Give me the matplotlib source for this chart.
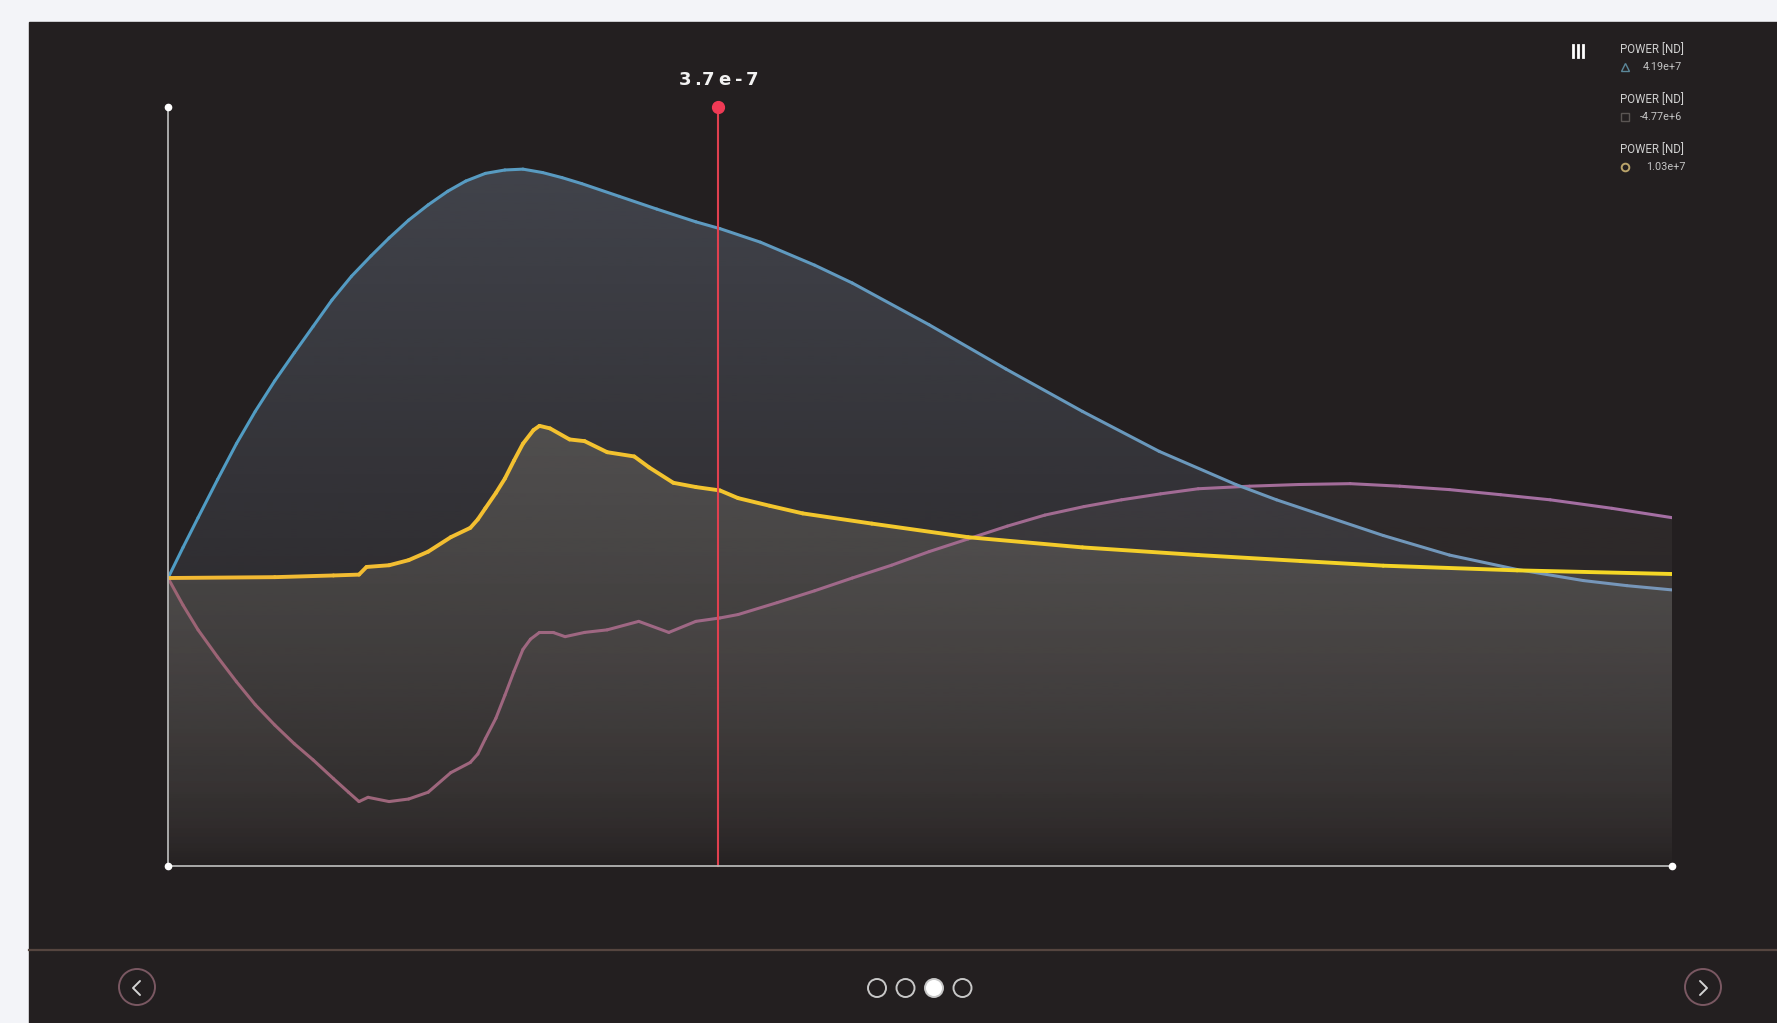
import numpy as np
import matplotlib
matplotlib.use("Agg")
import matplotlib.pyplot as plt
from matplotlib.collections import LineCollection
from matplotlib.patches import Polygon, Circle, Rectangle
from matplotlib.colors import to_rgb

# time in microseconds, power in units of 1e7
blue_t = [0, 0.010, 0.020, 0.033, 0.0455, 0.058, 0.071, 0.084, 0.0965, 0.109,
          0.122, 0.135, 0.147, 0.160, 0.173, 0.186, 0.198, 0.211, 0.224, 0.236,
          0.249, 0.262, 0.275, 0.300, 0.325, 0.351, 0.367, 0.394, 0.430, 0.455,
          0.506, 0.557, 0.608, 0.659, 0.710, 0.737, 0.764, 0.808, 0.852, 0.897,
          0.941, 0.970, 1.0]
blue_p = [0, 0.36, 0.71, 1.16, 1.58, 1.96, 2.32, 2.65, 2.96, 3.27,
          3.55, 3.79, 4.00, 4.21, 4.39, 4.55, 4.67, 4.76, 4.80, 4.81,
          4.77, 4.71, 4.64, 4.49, 4.34, 4.19, 4.11, 3.95, 3.68, 3.47,
          2.98, 2.46, 1.96, 1.49, 1.10, 0.92, 0.76, 0.50, 0.27, 0.10,
          -0.03, -0.09, -0.14]

yellow_t = [0, 0.071, 0.110, 0.127, 0.132, 0.147, 0.160, 0.173, 0.188, 0.201,
            0.206, 0.211, 0.218, 0.224, 0.230, 0.236, 0.243, 0.247, 0.254, 0.267,
            0.277, 0.292, 0.310, 0.320, 0.336, 0.351, 0.367, 0.379, 0.400, 0.422,
            0.468, 0.532, 0.608, 0.685, 0.753, 0.808, 0.897, 1.0]
yellow_p = [0, 0.01, 0.03, 0.04, 0.13, 0.15, 0.21, 0.31, 0.48, 0.59,
            0.69, 0.82, 1.00, 1.17, 1.38, 1.58, 1.74, 1.79, 1.76, 1.63,
            1.61, 1.48, 1.43, 1.30, 1.12, 1.07, 1.03, 0.94, 0.85, 0.76,
            0.64, 0.48, 0.36, 0.27, 0.20, 0.145, 0.09, 0.047]

pink_t = [0, 0.010, 0.020, 0.033, 0.0455, 0.058, 0.071, 0.084, 0.0965, 0.110,
          0.120, 0.127, 0.133, 0.147, 0.160, 0.173, 0.188, 0.201, 0.206, 0.211,
          0.218, 0.224, 0.230, 0.236, 0.241, 0.247, 0.256, 0.264, 0.277, 0.292,
          0.313, 0.333, 0.351, 0.367, 0.379, 0.405, 0.430, 0.455, 0.481, 0.506,
          0.532, 0.558, 0.583, 0.609, 0.634, 0.660, 0.685, 0.719, 0.752, 0.786,
          0.819, 0.852, 0.886, 0.919, 0.960, 1.0]
pink_p = [0, -0.32, -0.61, -0.93, -1.22, -1.49, -1.73, -1.95, -2.14, -2.36,
          -2.52, -2.63, -2.58, -2.63, -2.60, -2.52, -2.29, -2.17, -2.07, -1.89,
          -1.65, -1.38, -1.10, -0.84, -0.72, -0.64, -0.64, -0.69, -0.64, -0.61,
          -0.51, -0.64, -0.51, -0.47, -0.43, -0.29, -0.15, 0.00, 0.15, 0.31,
          0.46, 0.61, 0.74, 0.84, 0.92, 0.99, 1.05, 1.08, 1.10, 1.11,
          1.08, 1.04, 0.98, 0.92, 0.82, 0.71]

cursor_t = 0.366
legend_titles = ["POWER [ND]", "POWER [ND]", "POWER [ND]"]
legend_values = ["4.19e+7", "-4.77e+6", "1.03e+7"]
n_pages = 4
current_page = 2

W, H = 1777, 1023
BG = "#231f20"
fig = plt.figure(figsize=(W / 100, H / 100), dpi=100, facecolor="#f3f4f8")

# ---- frame / UI layer (pixel coordinates)
ui = fig.add_axes([0, 0, 1, 1])
ui.set_xlim(0, W)
ui.set_ylim(H, 0)
ui.axis("off")
ui.add_patch(Rectangle((29, 22), W - 29, H - 22, color=BG, zorder=0))
ui.plot([29, W], [950, 950], color="#55453f", lw=1.6, zorder=1)

# page dots
for i in range(n_pages):
    cx = 877 + i * 28.5
    ui.add_patch(Circle((cx, 988), 9, fill=(i == current_page),
                        facecolor="white", edgecolor="#c8c8c8", lw=1.4, zorder=2))

# arrow buttons
for cx, d in [(137, -1), (1703, 1)]:
    ui.add_patch(Circle((cx, 987), 18, fill=False, edgecolor="#7a5862", lw=1.4, zorder=2))
    ui.plot([cx - 3 * d, cx + 4 * d, cx - 3 * d], [981, 988, 995], color="#d4d4d4",
            lw=1.4, zorder=3, solid_capstyle="round")

# legend
for x in [1573, 1578, 1583]:
    ui.plot([x, x], [45, 57], color="white", lw=2, zorder=3)
markers = [("^", "#5b8799", 1643), ("s", "#5a5553", 1640), ("o", "#b9a36a", 1646)]
for i, (title, val) in enumerate(zip(legend_titles, legend_values)):
    y0 = 50 + 50 * i
    mk, mc, vx = markers[i]
    ui.text(1620, y0, title, fontsize=8.3, color="#cfcfcf", va="center", ha="left",
            family="Roboto", zorder=3)
    ui.plot(1625, y0 + 17, marker=mk, ms=5.5, mfc="none", mec=mc,
            mew=1.4 if mk == "o" else 1.0, zorder=3)
    ui.text(vx, y0 + 17, val, fontsize=7.8, color="#c4c4c4", va="center", ha="left",
            family="Roboto", zorder=3)

# ---- chart
ymin, ymax = -3.388, 5.541
ax = fig.add_axes([168 / W, 1 - 866 / H, 1504 / W, 759 / H])
ax.set_facecolor("none")


def grad_fill(x, y, color, a_top, power, zorder):
    x = np.asarray(x)
    y = np.asarray(y)
    poly = Polygon(np.column_stack([np.r_[x[0], x, x[-1]], np.r_[ymin, y, ymin]]),
                   closed=True, facecolor="none", edgecolor="none")
    ax.add_patch(poly)
    top = y.max()
    n = 256
    rgba = np.zeros((n, 1, 4))
    rgba[..., :3] = to_rgb(color)
    rgba[..., 3] = (a_top * np.linspace(1.0, 0.0, n) ** power)[:, None]
    im = ax.imshow(rgba, extent=[x[0], x[-1], ymin, top], origin="upper",
                   aspect="auto", zorder=zorder, interpolation="bilinear")
    im.set_clip_path(poly)


def grad_line(x, y, c0, c1, lw):
    x = np.asarray(x)
    y = np.asarray(y)
    pts = np.column_stack([x, y]).reshape(-1, 1, 2)
    segs = np.concatenate([pts[:-1], pts[1:]], axis=1)
    f = (x[:-1] + x[1:]) / 2
    c0 = np.array(to_rgb(c0))
    c1 = np.array(to_rgb(c1))
    cols = c0[None, :] * (1 - f[:, None]) + c1[None, :] * f[:, None]
    ax.add_collection(LineCollection(segs, colors=cols, linewidths=lw,
                                     capstyle="round", joinstyle="round", zorder=4))


grad_fill(blue_t, blue_p, "#8898b0", 0.30, 1.0, 1)
grad_fill(yellow_t, yellow_p, "#9e9888", 0.26, 0.5, 2)
grad_fill(pink_t, pink_p, "#958e8c", 0.10, 0.5, 3)

grad_line(pink_t, pink_p, "#9c6474", "#a56fa5", 2.2)
grad_line(blue_t, blue_p, "#4f9cc4", "#7896b8", 2.2)
grad_line(yellow_t, yellow_p, "#f2b834", "#f5da25", 2.8)

# cursor
ax.plot([cursor_t, cursor_t], [ymin, ymax], color="#e0404f", lw=1.5, zorder=5, clip_on=False)
ax.plot(cursor_t, ymax, "o", ms=8.5, color="#f03a55", zorder=6, clip_on=False)
label = f"{cursor_t * 1e-6:.1e}".replace("e-0", "e-")
char_dx = [-33.4, -21.4, -10, 6, 20.6, 33.3]
for ch, dx in zip(label, char_dx):
    ax.annotate(ch, xy=(cursor_t, ymax), xytext=(dx, 27),
                textcoords="offset pixels", ha="center", va="center",
                fontsize=13, fontweight="bold", color="#f2f2f2", annotation_clip=False)

ax.set_xlim(0, 1)
ax.set_ylim(ymin, ymax)
ax.set_xticks([])
ax.set_yticks([])
for s in ["top", "right"]:
    ax.spines[s].set_visible(False)
for s in ["left", "bottom"]:
    ax.spines[s].set_color("#b4b4b4")
    ax.spines[s].set_linewidth(1.3)
    ax.spines[s].set_zorder(6)
ax.plot([0, 0, 1], [ymax, ymin, ymin], "o", ms=4.5, color="white", zorder=7, clip_on=False)

fig.savefig("out.png", dpi=100, facecolor=fig.get_facecolor())
